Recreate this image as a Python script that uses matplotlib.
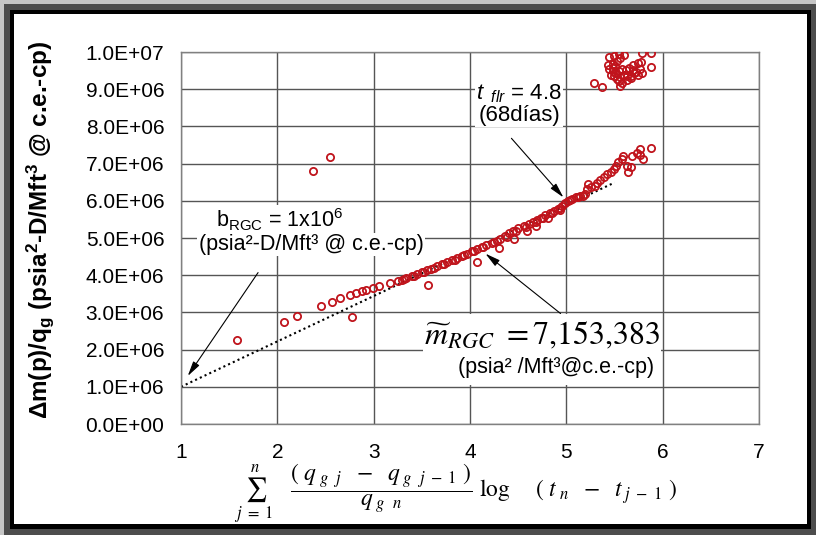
import matplotlib
matplotlib.use("Agg")
import matplotlib.pyplot as plt
from matplotlib.patches import Rectangle
import numpy as np

plt.rcParams['font.family'] = ['Liberation Sans', 'DejaVu Sans']
plt.rcParams['mathtext.fontset'] = 'custom'
plt.rcParams['mathtext.rm'] = 'Liberation Sans'
plt.rcParams['mathtext.it'] = 'Liberation Sans:italic'
plt.rcParams['mathtext.bf'] = 'Liberation Sans:bold'

# Superposition time function (x) and normalised pseudo-pressure drop (y, x1e6)
trend_x = [2.07, 2.20, 2.45, 2.57, 2.65, 2.75, 2.82, 2.88, 2.92, 2.99, 3.06, 3.17, 3.25,
           3.29, 3.34, 3.40, 3.45, 3.50, 3.55, 3.60, 3.66, 3.71, 3.76, 3.81, 3.86, 3.92,
           3.97, 4.02, 4.07, 4.12, 4.17, 4.23, 4.28, 4.31, 4.36, 4.40, 4.45, 4.50, 4.56,
           4.61, 4.65, 4.70, 4.74, 4.78, 4.83, 4.87, 4.91, 4.95, 4.99, 5.02, 5.06, 5.10,
           5.14, 5.19, 5.21, 5.23, 5.26, 5.30, 5.32, 5.35, 5.39, 5.42, 5.46, 5.49, 5.52,
           5.54, 5.58, 5.59, 5.63, 5.67, 5.68, 5.73, 5.76, 5.80, 5.88]
trend_y = [2.73, 2.90, 3.16, 3.29, 3.38, 3.47, 3.53, 3.58, 3.60, 3.65, 3.71, 3.79, 3.84,
           3.88, 3.93, 3.98, 4.03, 4.08, 4.13, 4.18, 4.24, 4.30, 4.35, 4.41, 4.46, 4.52,
           4.58, 4.64, 4.70, 4.75, 4.81, 4.87, 4.93, 4.98, 5.05, 5.13, 5.20, 5.26, 5.31,
           5.38, 5.44, 5.49, 5.55, 5.62, 5.67, 5.73, 5.79, 5.87, 5.94, 6.00, 6.05, 6.09,
           6.13, 6.17, 6.31, 6.45, 6.36, 6.40, 6.49, 6.56, 6.63, 6.71, 6.78, 6.85, 6.94,
           7.03, 7.12, 7.21, 6.94, 6.92, 7.21, 7.29, 7.38, 7.13, 7.41]

dense_x = [3.32, 3.42, 3.52, 3.63, 3.73, 3.84, 3.94, 4.04, 4.14, 4.25, 4.38, 4.48, 4.58,
           4.68, 4.76, 4.85, 4.93, 5.04, 5.12, 5.17, 4.30, 4.46, 4.59, 4.69, 4.81, 4.93,
           5.64, 5.76]
dense_y = [3.89, 3.99, 4.09, 4.20, 4.31, 4.42, 4.54, 4.64, 4.77, 4.88, 5.03, 5.18, 5.30,
           5.43, 5.55, 5.68, 5.80, 6.02, 6.10, 6.14, 4.72, 4.96, 5.20, 5.33, 5.53, 5.76,
           6.78, 7.24]

outlier_x = [1.58, 2.77, 3.56, 4.07, 2.37, 2.55]
outlier_y = [2.25, 2.88, 3.73, 4.35, 6.81, 7.19]

cluster_x = [5.44, 5.49, 5.55, 5.60, 5.79, 5.88, 5.43, 5.48, 5.53, 5.56, 5.74, 5.77, 5.88,
             5.44, 5.48, 5.51, 5.55, 5.58, 5.62, 5.65, 5.69, 5.72, 5.76, 5.79, 5.46, 5.49,
             5.53, 5.56, 5.60, 5.63, 5.67, 5.70, 5.74, 5.55, 5.58, 5.63, 5.67, 5.56, 5.29,
             5.37, 5.48, 5.51, 5.69]
cluster_y = [9.87, 9.89, 9.94, 9.91, 9.96, 9.96, 9.66, 9.69, 9.75, 9.85, 9.71, 9.73, 9.60,
             9.53, 9.48, 9.44, 9.48, 9.55, 9.51, 9.57, 9.51, 9.45, 9.53, 9.44, 9.39, 9.35,
             9.27, 9.33, 9.39, 9.35, 9.36, 9.44, 9.39, 9.21, 9.16, 9.25, 9.30, 9.09, 9.18,
             9.07, 9.58, 9.62, 9.66]

# Straight-line fit of the radial flow period
b_rgc = 1.0e6
fit_slope = 1.22e6
fit_x = [1.0, 5.5]

x_ticks = [1, 2, 3, 4, 5, 6, 7]
y_ticks = np.arange(0, 11) * 1e6
y_tick_labels = ["0.0E+00", "1.0E+06", "2.0E+06", "3.0E+06", "4.0E+06", "5.0E+06",
                 "6.0E+06", "7.0E+06", "8.0E+06", "9.0E+06", "1.0E+07"]

W, H = 816, 535
fig = plt.figure(figsize=(W / 100, H / 100), dpi=100)
fig.patch.set_facecolor('#c6c6c6')


def frame_rect(x0, y0, x1, y1, color):
    fig.add_artist(Rectangle((x0 / W, 1 - y1 / H), (x1 - x0) / W, (y1 - y0) / H,
                             transform=fig.transFigure, facecolor=color,
                             edgecolor='none', zorder=-10))


frame_rect(4, 4, 816, 535, '#4d4d4d')
frame_rect(10, 10, 811, 529, '#000000')
frame_rect(14, 14, 807, 524, '#ffffff')

ax = fig.add_axes([181 / W, 1 - 424 / H, 578 / W, 372 / H])
ax.set_xlim(1, 7)
ax.set_ylim(0, 1e7)
ax.set_xticks(x_ticks)
ax.set_yticks(y_ticks)
ax.set_yticklabels(y_tick_labels)
ax.tick_params(axis='both', length=0)
ax.tick_params(axis='y', labelsize=15, pad=12)
ax.tick_params(axis='x', labelsize=15, pad=14)
ax.set_axisbelow(True)
ax.grid(True, color='#555555', linewidth=1.0)
for s in ax.spines.values():
    s.set_color('#808080')
    s.set_linewidth(1.0)

# white panel behind the slope annotation
ax.add_patch(Rectangle((3.51, 1.05e6), 2.47, 1.9e6, facecolor='white',
                       edgecolor='none', zorder=1))

fit_y = [b_rgc + fit_slope * (x - 1.0) for x in fit_x]
ax.plot(fit_x, fit_y, color='black', linestyle=(0, (1, 1.5)), linewidth=1.5, zorder=2)

mk = dict(linestyle='none', marker='o', markersize=5.2, markerfacecolor='none',
          markeredgecolor='#c0141c', markeredgewidth=1.3, zorder=3)
for xs, ys in [(trend_x, trend_y), (dense_x, dense_y), (outlier_x, outlier_y),
               (cluster_x, cluster_y)]:
    ax.plot(xs, np.array(ys) * 1e6, **mk)

box = dict(facecolor='white', edgecolor='none', pad=1.0)
arrow = dict(arrowstyle='-|>,head_length=0.9,head_width=0.22', color='black',
             linewidth=0.8, shrinkA=0, shrinkB=0)

ax.text(4.51, 8.6e6, '$t_{\\ \\ flr}$ = 4.8\n(68días)', ha='center', va='center',
        fontsize=16, linespacing=1.0, bbox=box, zorder=4)
ax.annotate('', xy=(4.97, 6.09e6), xytext=(4.43, 7.68e6), arrowprops=arrow, zorder=4)

ax.text(2.02, 5.50e6, 'b$_{\\mathrm{RGC}}$ = 1x10$^{6}$', ha='center', va='center',
        fontsize=15.5, bbox=box, zorder=4)
ax.text(2.35, 4.82e6, '(psia²-D/Mft³ @ c.e.-cp)', ha='center', va='center',
        fontsize=15.5, bbox=box, zorder=4)
ax.annotate('', xy=(1.07, 1.29e6), xytext=(1.80, 4.07e6), arrowprops=arrow, zorder=4)

ax.text(3.52, 2.37e6, r'$\widetilde{m}_{RGC}\ =7{,}153{,}383$', ha='left', va='center',
        fontsize=23, math_fontfamily='stix', zorder=4)
ax.text(3.88, 1.51e6, '(psia² /Mft³@c.e.-cp)', ha='left', va='center',
        fontsize=15.5, zorder=4)
ax.annotate('', xy=(4.16, 4.58e6), xytext=(4.94, 2.97e6), arrowprops=arrow, zorder=4)

fig.text(40 / W, 1 - 230 / H,
         r'Δm(p)/q$_{\mathbf{g}}$ (psia$^{\mathbf{2}}$-D/Mft$^{\mathbf{3}}$ @ c.e.-cp)',
         rotation=90, ha='center', va='center', fontsize=17.5, fontweight='bold')

fig.text(456 / W, 1 - 494 / H,
         r'$\sum_{j\ =\ 1}^{n}\ \ \ \dfrac{(\ q_{\ g\ \ j}\ \ -\ \ q_{\ g\ \ j\ -\ 1}\ )}'
         r'{q_{\ g\ \ n}}\ \log\ \ \ \ (\ t_{\ n}\ \ -\ \ t_{\ j\ -\ 1}\ )$',
         ha='center', va='center', fontsize=17, math_fontfamily='stix')

fig.savefig('out.png', dpi=100, facecolor=fig.get_facecolor())
